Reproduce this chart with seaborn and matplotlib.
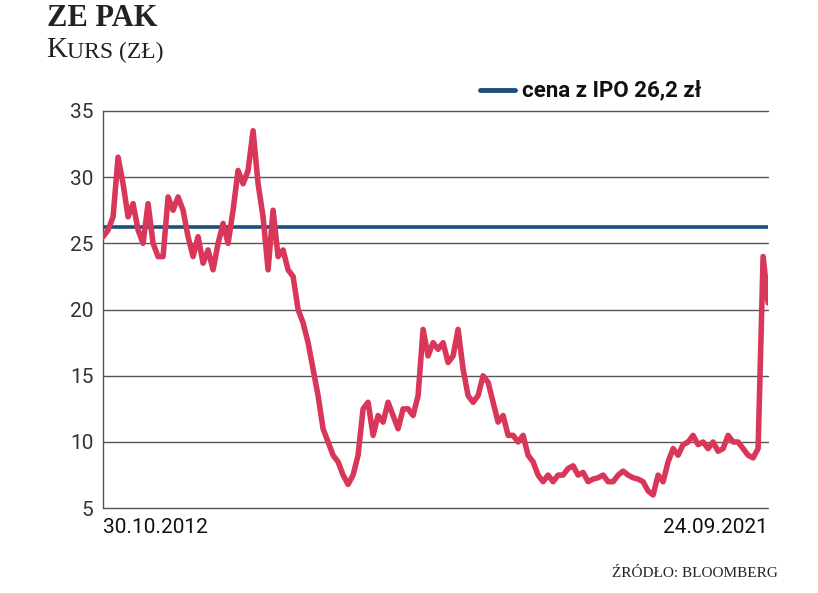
import matplotlib
matplotlib.use("Agg")
import matplotlib.pyplot as plt
import numpy as np
import pandas as pd
import seaborn as sns

# ZE PAK share price (zł), roughly evenly spaced in time
price = [25.5, 26, 27, 31.5, 29.5, 27, 28, 26, 25, 28, 25, 24, 24, 28.5, 27.5,
         28.5, 27.5, 25.5, 24, 25.5, 23.5, 24.5, 23, 25, 26.5, 25, 27.5, 30.5,
         29.5, 30.5, 33.5, 29.5, 27, 23, 27.5, 24, 24.5, 23, 22.5, 20, 19, 17.5,
         15.5, 13.5, 11, 10, 9, 8.5, 7.5, 6.8, 7.5, 9, 12.5, 13, 10.5, 12, 11.5,
         13, 12, 11, 12.5, 12.5, 12, 13.5, 18.5, 16.5, 17.5, 17, 17.5, 16, 16.5,
         18.5, 15.5, 13.5, 13, 13.5, 15, 14.5, 13, 11.5, 12, 10.5, 10.5, 10, 10.5,
         9, 8.5, 7.5, 7, 7.5, 7, 7.5, 7.5, 8, 8.2, 7.5, 7.7, 7, 7.2, 7.3, 7.5, 7,
         7, 7.5, 7.8, 7.5, 7.3, 7.2, 7, 6.3, 6, 7.5, 7, 8.5, 9.5, 9, 9.8, 10, 10.5,
         9.8, 10, 9.5, 10, 9.3, 9.5, 10.5, 10, 10, 9.5, 9, 8.8, 9.5, 24, 20.5]
start_date = "2012-10-30"
end_date = "2021-09-24"
ipo_price = 26.2
y_ticks = [5, 10, 15, 20, 25, 30, 35]
x_labels = ["30.10.2012", "24.09.2021"]

dates = pd.date_range(start_date, end_date, periods=len(price))
df = pd.DataFrame({"date": dates, "price": price})

sns.set_style("white")
plt.rcParams["font.family"] = ["Liberation Sans Narrow", "Roboto", "DejaVu Sans"]

RED = "#d9375a"
BLUE = "#1c4f7c"

fig = plt.figure(figsize=(8.18, 5.93), dpi=100)
ax = fig.add_axes([0.126, 0.143, 0.813, 0.670])

for y in y_ticks:
    ax.axhline(y, color="#555555", lw=1.0, zorder=1, clip_on=False)
ax.axhline(ipo_price, color=BLUE, lw=2.6, zorder=3)
sns.lineplot(data=df, x="date", y="price", ax=ax, color=RED, lw=4,
             zorder=4, solid_joinstyle="round")

ax.set_ylim(5, 35)
ax.set_xlim(dates[0], dates[-1])
ax.set_yticks(y_ticks)
ax.set_yticklabels([str(v) for v in y_ticks], fontsize=15, color="#333333")
ax.set_xticks([dates[0], dates[-1]])
xt = ax.set_xticklabels(x_labels, fontsize=15, color="#111111")
xt[0].set_ha("left")
xt[1].set_ha("right")
ax.tick_params(axis="both", length=0, pad=7)
ax.set_xlabel("")
ax.set_ylabel("")
for s in ["top", "right", "bottom"]:
    ax.spines[s].set_visible(False)
ax.spines["left"].set_color("#555555")
ax.spines["left"].set_linewidth(1.0)

# titles
fig.text(0.057, 0.968, "ZE PAK", fontsize=22, fontweight="bold",
         family="Liberation Serif", va="center", color="#222222")
fig.text(0.057, 0.915, "K", fontsize=21, family="Liberation Serif", va="center",
         color="#222222")
fig.text(0.082, 0.912, "URS (ZŁ)", fontsize=17, family="Liberation Serif", va="center",
         color="#222222")

# legend
fig.add_artist(plt.Line2D([0.587, 0.630], [0.848, 0.848], color=BLUE, lw=3.5))
fig.text(0.638, 0.848, "cena z IPO 26,2 zł", fontsize=16, fontweight="bold",
         va="center", color="#111111")

# source
fig.text(0.951, 0.022, "ŹRÓDŁO: BLOOMBERG", fontsize=11, family="Liberation Serif",
         ha="right", va="bottom", color="#222222")

fig.savefig("out.png", dpi=100)
